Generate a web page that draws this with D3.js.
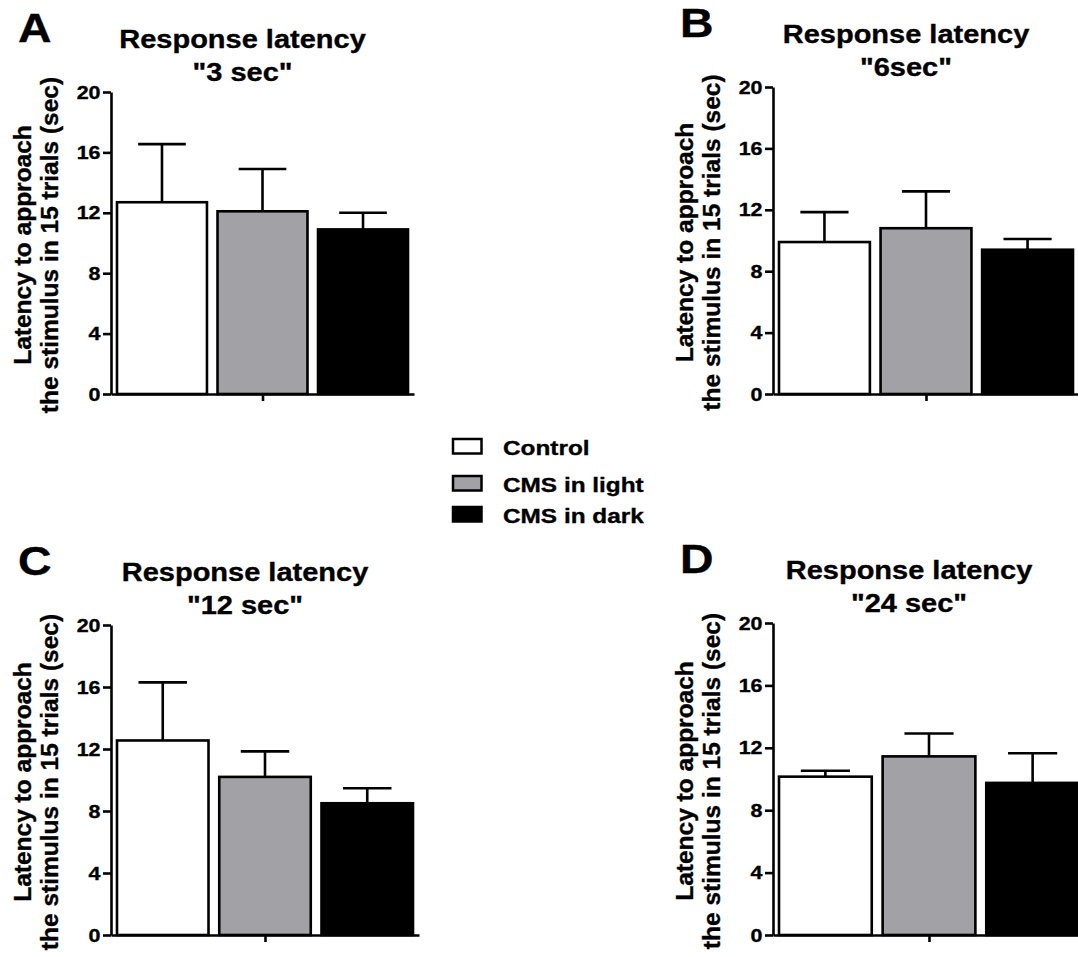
<!DOCTYPE html>
<html>
<head>
<meta charset="utf-8">
<script src="https://d3js.org/d3.v7.min.js"></script>
<style>
    body { margin: 0; background: #fff; }
    svg text.lbl { font-family: "Liberation Sans", Arial, sans-serif; font-weight: bold; fill: #000;
                   stroke: #000; stroke-width: 0.35px; }
</style>
</head>
<body>
<div id="fig"></div>
<script>
// Data
var groups = ['Control', 'CMS in light', 'CMS in dark'];
var groupFill = ['#ffffff', '#a2a1a6', '#000000'];
var panelLetters = ['A', 'B', 'C', 'D'];
var panelSubtitles = ['"3 sec"', '"6sec"', '"12 sec"', '"24 sec"'];
var yTicks = [0, 4, 8, 12, 16, 20];

var mean3s = [12.7, 12.1, 10.9];
var sem3s = [3.85, 2.8, 1.1];
var mean6s = [9.9, 10.8, 9.4];
var sem6s = [1.95, 2.4, 0.7];
var mean12s = [12.55, 10.2, 8.5];
var sem12s = [3.75, 1.65, 0.97];
var mean24s = [10.15, 11.45, 9.75];
var sem24s = [0.38, 1.47, 1.9];

var allMeans = [mean3s, mean6s, mean12s, mean24s];
var allSems = [sem3s, sem6s, sem12s, sem24s];

// horizontal text in the original is a bit wider than the font's natural shape
var SX = 1.16;

var LatencyChart = function() {
    var left = 0,
        top = 0,
        width = 300,
        height = 300,
        letter = 'A',
        subtitle = '';

    var chart = function(selection) {
        selection.each(function(d) {
            var g = d3.select(this).append('g')
                .attr('transform', 'translate(' + left + ',' + top + ')');

            var xScale = d3.scaleBand()
                .domain(groups)
                .range([6, width - 6])
                .paddingInner(0.105);

            var yScale = d3.scaleLinear()
                .domain([0, 20])
                .range([height, 0]);

            // bars
            g.selectAll('rect.bar').data(d).enter()
                .append('rect')
                .attr('class', 'bar')
                .attr('x', function(e) { return xScale(e.group); })
                .attr('width', xScale.bandwidth())
                .attr('y', function(e) { return yScale(e.mean); })
                .attr('height', function(e) { return yScale(0) - yScale(e.mean); })
                .attr('fill', function(e, i) { return groupFill[i]; })
                .attr('stroke', '#000')
                .attr('stroke-width', 2.6);

            // upper error bars
            var capHalf = xScale.bandwidth() * 0.265;
            var err = g.selectAll('g.err').data(d).enter().append('g').attr('class', 'err');
            err.append('line')
                .attr('x1', function(e) { return xScale(e.group) + xScale.bandwidth() / 2; })
                .attr('x2', function(e) { return xScale(e.group) + xScale.bandwidth() / 2; })
                .attr('y1', function(e) { return yScale(e.mean); })
                .attr('y2', function(e) { return yScale(e.mean + e.sem); });
            err.append('line')
                .attr('x1', function(e) { return xScale(e.group) + xScale.bandwidth() / 2 - capHalf; })
                .attr('x2', function(e) { return xScale(e.group) + xScale.bandwidth() / 2 + capHalf; })
                .attr('y1', function(e) { return yScale(e.mean + e.sem); })
                .attr('y2', function(e) { return yScale(e.mean + e.sem); });
            err.selectAll('line').attr('stroke', '#000').attr('stroke-width', 2.6);

            // axes (labels drawn separately so the font can be set freely)
            var yAxis = d3.axisLeft(yScale).tickValues(yTicks).tickFormat('').tickSize(8).tickSizeOuter(0);
            var yG = g.append('g').attr('class', 'axis y').call(yAxis);
            yG.selectAll('path, line').attr('stroke', '#000').attr('stroke-width', 2.6);

            g.selectAll('text.ytick').data(yTicks).enter()
                .append('text')
                .attr('class', 'lbl ytick')
                .attr('transform', function(t) {
                    return 'translate(-10.5,' + (yScale(t) + 6.6) + ') scale(' + SX + ',1)';
                })
                .attr('text-anchor', 'end')
                .style('font-size', '18.5px')
                .text(function(t) { return t; });

            var xAxis = d3.axisBottom(d3.scaleLinear().domain([0, 1]).range([0, width]))
                .tickValues([0.5]).tickFormat('').tickSize(7).tickSizeOuter(0);
            var xG = g.append('g').attr('class', 'axis x')
                .attr('transform', 'translate(0,' + height + ')')
                .call(xAxis);
            xG.selectAll('path, line').attr('stroke', '#000').attr('stroke-width', 2.6);

            // titles
            var cx = width / 2 - 20;
            g.append('text')
                .attr('class', 'lbl')
                .attr('transform', 'translate(' + cx + ',' + (-44) + ') scale(' + SX + ',1)')
                .attr('text-anchor', 'middle')
                .style('font-size', '25px')
                .text('Response latency');
            g.append('text')
                .attr('class', 'lbl')
                .attr('transform', 'translate(' + cx + ',' + (-11) + ') scale(' + SX + ',1)')
                .attr('text-anchor', 'middle')
                .style('font-size', '25px')
                .text(subtitle);

            // panel letter
            g.append('text')
                .attr('class', 'lbl')
                .attr('transform', 'translate(' + (-93) + ',' + (-50) + ') scale(' + SX + ',1)')
                .style('font-size', '40px')
                .text(letter);

            // y axis title, two lines
            var midY = height / 2 + 2;
            g.append('text')
                .attr('class', 'lbl')
                .attr('transform', 'translate(' + (-80.5) + ',' + midY + ') rotate(-90)')
                .attr('text-anchor', 'middle')
                .style('font-size', '24.5px')
                .text('Latency to approach');
            g.append('text')
                .attr('class', 'lbl')
                .attr('transform', 'translate(' + (-53.5) + ',' + midY + ') rotate(-90)')
                .attr('text-anchor', 'middle')
                .style('font-size', '24.5px')
                .text('the stimulus in 15 trials (sec)');
        });
    };

    chart.left = function(value) {
        if (!arguments.length) return left;
        left = value;
        return chart;
    };
    chart.top = function(value) {
        if (!arguments.length) return top;
        top = value;
        return chart;
    };
    chart.width = function(value) {
        if (!arguments.length) return width;
        width = value;
        return chart;
    };
    chart.height = function(value) {
        if (!arguments.length) return height;
        height = value;
        return chart;
    };
    chart.letter = function(value) {
        if (!arguments.length) return letter;
        letter = value;
        return chart;
    };
    chart.subtitle = function(value) {
        if (!arguments.length) return subtitle;
        subtitle = value;
        return chart;
    };
    return chart;
};

var svg = d3.select('#fig').append('svg')
    .attr('width', 1078)
    .attr('height', 957);

// plot areas (y axis x, top of axis, width, height)
var panelBoxes = [
    [111, 92, 303, 302],
    [773, 87, 306, 307],
    [111, 625, 308, 310],
    [773, 623, 312, 312]
];

panelLetters.forEach(function(letter, p) {
    var rows = groups.map(function(grp, i) {
        return { group: grp, mean: allMeans[p][i], sem: allSems[p][i] };
    });
    var box = panelBoxes[p];
    var chart = LatencyChart()
        .left(box[0]).top(box[1]).width(box[2]).height(box[3])
        .letter(letter).subtitle(panelSubtitles[p]);
    svg.append('g').datum(rows).call(chart);
});

// legend
var legendRowY = [439, 476, 507];
var legend = svg.append('g').attr('class', 'legend');
var item = legend.selectAll('g').data(groups).enter().append('g')
    .attr('transform', function(d, i) { return 'translate(453,' + legendRowY[i] + ')'; });
item.append('rect')
    .attr('width', 28.5)
    .attr('height', 14.5)
    .attr('fill', function(d, i) { return groupFill[i]; })
    .attr('stroke', '#000')
    .attr('stroke-width', 2.5);
item.append('text')
    .attr('class', 'lbl')
    .attr('transform', 'translate(50,15.5) scale(' + SX + ',1)')
    .style('font-size', '21px')
    .text(function(d) { return d; });
</script>
</body>
</html>
